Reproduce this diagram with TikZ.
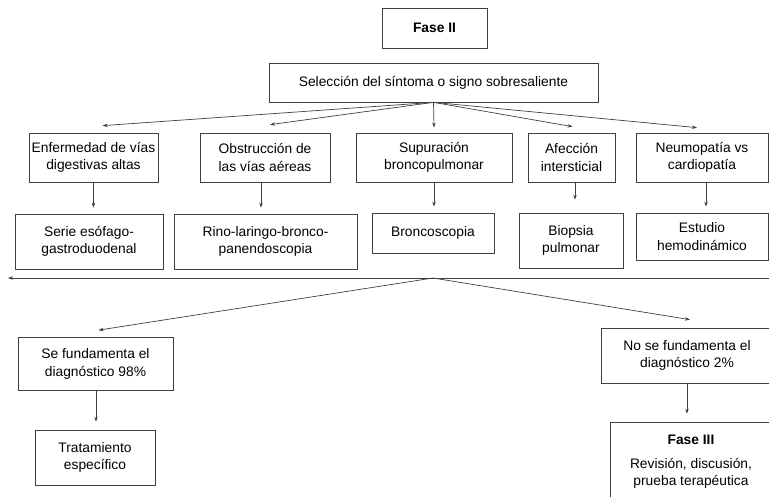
\documentclass[tikz,border=0pt]{standalone}
\usepackage{fontspec}
\setmainfont{Liberation Sans}
\usetikzlibrary{arrows.meta}
\tikzset{
  box/.style={draw=black!75, line width=0.7pt, inner sep=2pt, align=center, font=\fontsize{13.8}{17.5}\selectfont},
  arr/.style={draw=black!75, line width=0.7pt, -{Stealth[length=5pt,width=3.5pt]}},
}
\begin{document}
\begin{tikzpicture}[x=1pt,y=-1pt]
\useasboundingbox (0,0) rectangle (769,497);
% top
\node[box, minimum width=105pt, minimum height=40pt] (f2) at (434.5,28) {\textbf{Fase II}};
\node[box, minimum width=329pt, minimum height=39pt] (sel) at (433.5,82.5) {Selección del síntoma o signo sobresaliente};
% row 1
\node[box, minimum width=129pt, minimum height=49pt] (e1) at (93.5,157.5) {Enfermedad de vías\\digestivas altas};
\node[box, minimum width=130pt, minimum height=49pt] (e2) at (265,157.5) {Obstrucción de\\las vías aéreas};
\node[box, minimum width=156pt, minimum height=49pt] (e3) at (434,157.5) {Supuración\\broncopulmonar};
\node[box, minimum width=87pt, minimum height=49pt, inner sep=1pt] (e4) at (571.5,157.5) {Afección\\intersticial};
\node[box, minimum width=132pt, minimum height=49pt] (e5) at (702,157.5) {Neumopatía vs\\cardiopatía};
% row 2
\node[box, minimum width=148pt, minimum height=55pt] (p1) at (89,241.5) {Serie esófago-\\gastroduodenal};
\node[box, minimum width=183pt, minimum height=55pt] (p2) at (265.5,241.5) {Rino-laringo-bronco-\\panendoscopia};
\node[box, minimum width=122pt, minimum height=40pt] (p3) at (433,233) {Broncoscopia};
\node[box, minimum width=104pt, minimum height=55pt] (p4) at (571,240.5) {Biopsia\\pulmonar};
\node[box, minimum width=132pt, minimum height=47pt] (p5) at (702,236.5) {Estudio\\hemodinámico};
% long line
\coordinate (rgt) at (772,278);
\coordinate (lft) at (8,278);
\coordinate (mid) at (433,278);
\draw[arr] (rgt) -- (lft);
% diagnosis
\node[box, minimum width=155pt, minimum height=53pt] (s1) at (95.5,364) {Se fundamenta el\\diagnóstico 98\%};
\node[box, minimum width=172pt, minimum height=55pt] (s2) at (687,355.5) {No se fundamenta el\\diagnóstico 2\%};
\node[box, minimum width=120pt, minimum height=55pt] (t1) at (95,457.5) {Tratamiento\\específico};
\node[box, minimum width=162pt, minimum height=80pt] (f3) at (691,462) {\textbf{Fase III}\\[6pt]Revisión, discusión,\\prueba terapéutica};
% connectors
\draw[arr] (sel.south) -- ([xshift=9pt,yshift=7pt]e1.north);
\draw[arr] (sel.south) -- ([xshift=5pt,yshift=8pt]e2.north);
\draw[arr] (sel.south) -- ([yshift=5pt]e3.north);
\draw[arr] (sel.south) -- ([xshift=1pt,yshift=6pt]e4.north);
\draw[arr] (sel.south) -- ([xshift=-5pt,yshift=5pt]e5.north);
\draw[arr] (e1.south) -- ([yshift=6pt]p1.north -| e1.south);
\draw[arr] (e2.south -| 261,0) -- ([yshift=6pt]p2.north -| 261,0);
\draw[arr] (e3.south) -- ([yshift=6pt]p3.north -| e3.south);
\draw[arr] (e4.south -| 575,0) -- ([yshift=13pt]p4.north -| 575,0);
\draw[arr] (e5.south -| 706,0) -- ([yshift=6pt]p5.north -| 706,0);
\draw[arr] (mid) -- ([xshift=3pt,yshift=7pt]s1.north);
\draw[arr] (mid) -- ([xshift=3pt,yshift=8pt]s2.north);
\draw[arr] (s1.south -| 96,0) -- ([yshift=8pt]t1.north -| 96,0);
\draw[arr] (s2.south) -- ([yshift=8pt]f3.north -| s2.south);
\end{tikzpicture}
\end{document}
